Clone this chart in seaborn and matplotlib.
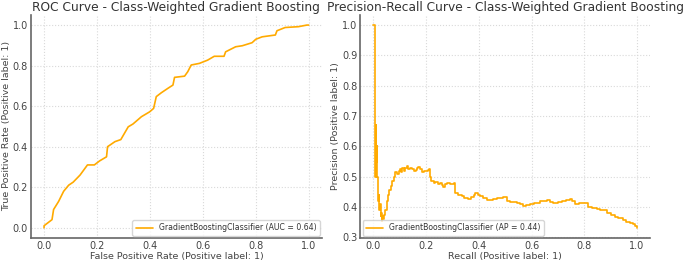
import numpy as np
import pandas as pd
import seaborn as sns
import matplotlib.pyplot as plt

# ROC curve points
fpr = [0.0, 0.0, 0.03, 0.036, 0.055, 0.074, 0.093, 0.11, 0.136, 0.164,
       0.19, 0.21, 0.236, 0.24, 0.268, 0.29, 0.31, 0.318, 0.336, 0.368,
       0.399, 0.414, 0.424, 0.443, 0.468, 0.487, 0.493, 0.531, 0.543, 0.556,
       0.587, 0.618, 0.643, 0.68, 0.686, 0.724, 0.749, 0.786, 0.8, 0.824,
       0.874, 0.88, 0.911, 0.961, 0.993, 1.0]
tpr = [0.0, 0.01, 0.04, 0.09, 0.13, 0.18, 0.21, 0.225, 0.26, 0.31,
       0.31, 0.33, 0.35, 0.40, 0.425, 0.435, 0.48, 0.498, 0.512, 0.548,
       0.572, 0.589, 0.647, 0.666, 0.688, 0.704, 0.742, 0.748, 0.77, 0.803,
       0.811, 0.827, 0.846, 0.846, 0.868, 0.893, 0.898, 0.913, 0.93, 0.942,
       0.951, 0.972, 0.988, 0.992, 1.0, 1.0]

# Precision-recall curve points
recall = [0.0, 0.004, 0.004, 0.007, 0.007, 0.009, 0.009, 0.011, 0.011, 0.013,
          0.013, 0.016, 0.016, 0.018, 0.02, 0.022, 0.024, 0.027, 0.029, 0.031,
          0.034, 0.036, 0.04, 0.045, 0.05, 0.055, 0.06, 0.065, 0.07, 0.076,
          0.083, 0.09, 0.095, 0.1, 0.105, 0.11, 0.114, 0.12, 0.126, 0.13,
          0.138, 0.145, 0.152, 0.16, 0.165, 0.17, 0.175, 0.183, 0.19, 0.2,
          0.208, 0.212, 0.215, 0.22, 0.228, 0.235, 0.245, 0.253, 0.26, 0.265,
          0.27, 0.278, 0.29, 0.306, 0.31, 0.32, 0.335, 0.345, 0.36, 0.37,
          0.38, 0.386, 0.395, 0.404, 0.415, 0.43, 0.445, 0.455, 0.47, 0.493,
          0.506, 0.52, 0.544, 0.556, 0.569, 0.58, 0.594, 0.61, 0.632, 0.645,
          0.657, 0.67, 0.683, 0.7, 0.714, 0.73, 0.746, 0.755, 0.765, 0.78,
          0.803, 0.815, 0.83, 0.847, 0.86, 0.885, 0.9, 0.917, 0.93, 0.948,
          0.96, 0.973, 0.985, 0.992, 1.0]
precision = [1.0, 1.0, 0.67, 0.67, 0.5, 0.6, 0.5, 0.67, 0.55, 0.6,
             0.5, 0.5, 0.45, 0.42, 0.44, 0.39, 0.41, 0.37, 0.38, 0.355,
             0.37, 0.36, 0.375, 0.39, 0.42, 0.44, 0.455, 0.47, 0.487, 0.5,
             0.515, 0.51, 0.52, 0.525, 0.515, 0.528, 0.52, 0.53, 0.535, 0.525,
             0.53, 0.525, 0.518, 0.522, 0.528, 0.532, 0.525, 0.515, 0.518, 0.52,
             0.522, 0.525, 0.5, 0.485, 0.48, 0.482, 0.476, 0.478, 0.474, 0.466,
             0.476, 0.478, 0.476, 0.478, 0.448, 0.44, 0.437, 0.43, 0.426, 0.432,
             0.44, 0.445, 0.44, 0.437, 0.43, 0.423, 0.425, 0.426, 0.43, 0.432,
             0.421, 0.418, 0.415, 0.41, 0.404, 0.407, 0.41, 0.415, 0.419, 0.42,
             0.423, 0.418, 0.415, 0.417, 0.419, 0.422, 0.426, 0.42, 0.411, 0.412,
             0.415, 0.401, 0.397, 0.393, 0.389, 0.382, 0.375, 0.368, 0.364, 0.357,
             0.352, 0.349, 0.345, 0.338, 0.332]

auc_label = "GradientBoostingClassifier (AUC = 0.64)"
ap_label = "GradientBoostingClassifier (AP = 0.44)"

sns.set_style("whitegrid", {"grid.linestyle": ":", "grid.color": "#d9d9d9",
                            "axes.edgecolor": "#666666", "text.color": "#333333",
                            "axes.labelcolor": "#444444", "xtick.color": "#444444",
                            "ytick.color": "#444444"})
plt.rcParams['font.family'] = ['DejaVu Sans']

line_color = "#FFAA00"

fig = plt.figure(figsize=(6.85, 2.62), dpi=100)
ax1 = fig.add_axes([0.045, 0.092, 0.425, 0.851])
ax2 = fig.add_axes([0.526, 0.092, 0.423, 0.851])

sns.lineplot(x=fpr, y=tpr, ax=ax1, color=line_color, lw=1.2,
             estimator=None, sort=False, label=auc_label)
ax1.set_title("ROC Curve - Class-Weighted Gradient Boosting", fontsize=8.8, pad=2.5)
ax1.set_xlabel("False Positive Rate (Positive label: 1)", fontsize=6.8, labelpad=1)
ax1.set_ylabel("True Positive Rate (Positive label: 1)", fontsize=6.8, labelpad=1.5)
ax1.set_xticks([0.0, 0.2, 0.4, 0.6, 0.8, 1.0])
ax1.set_yticks([0.0, 0.2, 0.4, 0.6, 0.8, 1.0])
ax1.legend(loc="lower right", fontsize=5.6, frameon=True, edgecolor="#cccccc",
           borderaxespad=0.3, handlelength=2.2)

sns.lineplot(x=recall, y=precision, ax=ax2, color=line_color, lw=1.2,
             estimator=None, sort=False, drawstyle="steps-post", label=ap_label)
ax2.set_title("Precision-Recall Curve - Class-Weighted Gradient Boosting", fontsize=8.8, pad=2.5)
ax2.set_xlabel("Recall (Positive label: 1)", fontsize=6.8, labelpad=1)
ax2.set_ylabel("Precision (Positive label: 1)", fontsize=6.8, labelpad=1.5)
ax2.set_xticks([0.0, 0.2, 0.4, 0.6, 0.8, 1.0])
ax2.legend(loc="lower left", fontsize=5.6, frameon=True, edgecolor="#cccccc",
           borderaxespad=0.3, handlelength=2.2)

for ax in (ax1, ax2):
    sns.despine(ax=ax)
    ax.tick_params(labelsize=7, length=0, pad=2)
    for s in ("left", "bottom"):
        ax.spines[s].set_linewidth(1.2)

fig.savefig("out.png", dpi=100)
